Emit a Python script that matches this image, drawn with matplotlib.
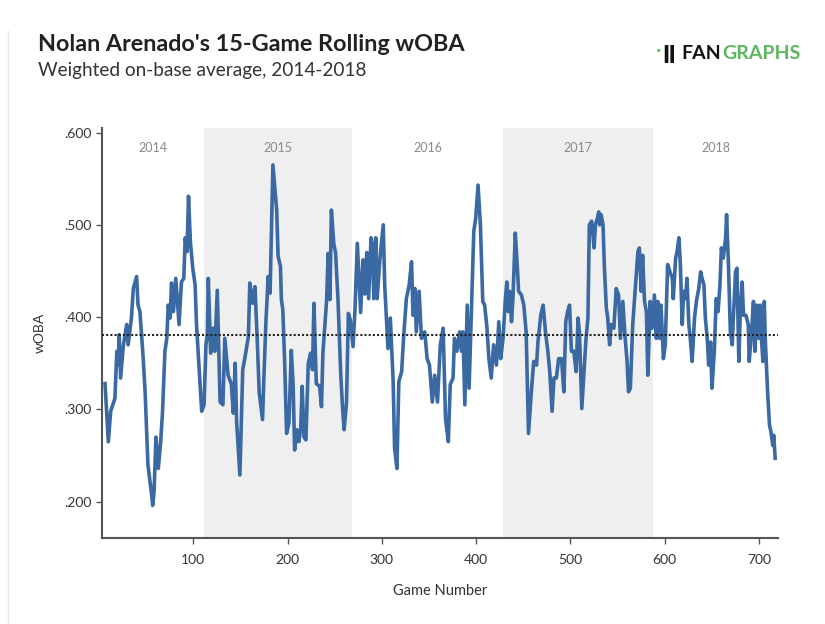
import matplotlib
matplotlib.use('Agg')
import matplotlib.pyplot as plt
from matplotlib.lines import Line2D

# 15-game rolling wOBA (game number, wOBA)
games = [6.5, 10, 12.5, 17, 19, 20.5, 21.5, 23, 26, 29.5, 31, 34.5, 36.5, 40, 41.5, 43.5, 47, 49,
         52, 56, 57, 58.5, 60.5, 63, 65.5, 67.5, 70, 72, 73.5, 75.5, 77, 79, 81.5, 85, 87.5, 90,
         91.5, 93.5, 95, 97, 99.5, 102, 103.5, 106.5, 109, 111.5, 113.5, 115, 116, 118.5, 121, 123,
         125.5, 128.5, 131.5, 133.5, 137, 140.5, 142.5, 144.5, 146, 149.5, 152.5, 155, 158.5, 160,
         163, 165.5, 168, 170, 173.5, 175, 177, 179.5, 181.5, 184.5, 188.5, 190, 192.5, 193.5, 195,
         197, 199, 201.5, 204, 206, 207.5, 210, 212, 214, 215.5, 217.5, 219.5, 222, 224.5, 226.5,
         228, 230.5, 234, 236, 237.5, 241.5, 243, 245, 246.5, 249, 251, 253.5, 256.5, 258.5, 260,
         262.5, 264.5, 266.5, 269.5, 271.5, 274, 277.5, 280, 282, 284, 286, 288.5, 290, 291.5,
         293.5, 295, 298, 301.5, 303, 306.5, 309, 312, 313.5, 316, 318, 321, 323, 326, 329, 331.5,
         333, 335, 336.5, 339.5, 342, 345.5, 348, 350.5, 353.5, 356, 359, 362, 365, 367.5, 370.5,
         372.5, 375.5, 377, 379.5, 382.5, 384.5, 386, 388, 390.5, 392.5, 395, 397.5, 399.5, 402,
         404.5, 407, 409, 411.5, 413.5, 416, 418.5, 421.5, 424, 426, 428.5, 431, 432.5, 434, 435.5,
         437.5, 439, 441.5, 443.5, 445, 448, 450.5, 453, 455.5, 458.5, 461, 464, 465.5, 468.5, 471,
         473.5, 476, 478, 480.5, 482.5, 485, 487.5, 490.5, 493, 495, 497, 499, 501, 503.5, 506, 508,
         509.5, 512, 514, 516.5, 518.5, 520, 522.5, 525, 526.5, 528.5, 530, 531, 532.5, 534.5, 536,
         538, 539.5, 541.5, 543, 546, 548.5, 551, 553, 555.5, 558, 560, 561.5, 563.5, 566, 568.5,
         571.5, 573, 575, 576.5, 578.5, 580.5, 582, 584.5, 586.5, 589, 591, 592.5, 594.5, 596,
         598.5, 600.5, 603, 605.5, 608, 609, 611.5, 613, 615, 616.5, 618.5, 620, 622, 623.5, 625.5,
         627, 629, 631.5, 633.5, 636, 638, 639.5, 641.5, 643, 645, 646.5, 648.5, 650, 652.5, 654.5,
         656.5, 658.5, 660, 662, 664.5, 665.5, 667.5, 669.5, 671.5, 673, 675, 676.5, 678.5, 680,
         682, 683.5, 686, 688.5, 689.5, 692, 694, 695.5, 697.5, 699.5, 701, 702.5, 704, 705.5,
         706.5, 709, 711, 712.5, 714.5, 715.5, 717]
woba = [.328, .265, .298, .312, .363, .348, .381, .334, .370, .392, .370, .399, .431, .444, .413, .406, .355, .319,
        .240, .207, .196, .211, .270, .236, .265, .298, .363, .377, .413, .399, .437, .406, .442, .392, .438, .442,
        .486, .471, .531, .482, .453, .435, .392, .341, .298, .305, .370, .381, .442, .361, .388, .363,
        .429, .308, .305, .377, .337, .327, .296, .350, .287, .229, .343, .357, .379, .437,
        .415, .433, .372, .318, .289, .336, .393, .444, .426, .565, .516, .466, .455, .419, .408,
        .350, .274, .285, .364, .325, .256, .278, .265, .280, .325, .270, .267, .350, .361, .343,
        .415, .328, .325, .303, .361, .419, .469, .419, .516, .480, .469, .419, .336, .299, .278,
        .307, .404, .397, .368, .408, .480, .405, .462, .425, .470, .420, .486, .478, .420,
        .486, .420, .464, .500, .435, .366, .399, .330, .258, .236, .330, .341, .377, .420, .435, .460,
        .402, .431, .384, .428, .377, .384, .355, .348, .308, .337, .308, .370, .388, .290, .265,
        .327, .334, .377, .363, .384, .363, .384, .305, .413, .323, .410, .493, .507, .543,
        .500, .417, .413, .388, .355, .334, .370, .348, .395, .355, .377, .420, .438, .406, .428,
        .395, .420, .491, .457, .428, .424, .413, .384, .274, .319, .352, .348, .373, .402, .413,
        .384, .363, .341, .298, .334, .334, .355, .355, .319, .395, .406, .413, .363, .363, .341, .399,
        .384, .301, .334, .377, .399, .500, .504, .475, .500, .507, .514, .500, .511, .500, .453,
        .410, .399, .370, .392, .388, .431, .424, .377, .417, .377, .352, .319, .323, .392, .428,
        .471, .475, .428, .467, .417, .406, .337, .417, .388, .424, .377, .417, .377, .413,
        .355, .370, .457, .449, .442, .420, .464, .471, .486, .457, .392, .428, .420, .442, .392,
        .377, .352, .399, .417, .431, .449, .442, .435, .399, .377, .348, .373, .323, .363, .420,
        .406, .435, .475, .464, .486, .511, .457, .384, .370, .406, .449, .453, .352, .406,
        .438, .402, .402, .392, .352, .384, .417, .363, .413, .377, .413, .377, .352, .417,
        .377, .319, .283, .276, .261, .272, .247]

avg_woba = 0.381
seasons = ['2014', '2015', '2016', '2017', '2018']
season_bounds = [3, 111.5, 268.5, 428.5, 587.5, 720]
shaded = ['2015', '2017']
yticks = [0.2, 0.3, 0.4, 0.5, 0.6]
ytick_labels = ['.200', '.300', '.400', '.500', '.600']
xticks = [100, 200, 300, 400, 500, 600, 700]

fig = plt.figure(figsize=(8.25, 6.24), dpi=100)
ax = fig.add_axes([0.1233, 0.1383, 0.8197, 0.6567])

for i, yr in enumerate(seasons):
    lo, hi = season_bounds[i], season_bounds[i + 1]
    if yr in shaded:
        ax.axvspan(lo, hi, color='#efefef', lw=0, zorder=0)
    ax.text((lo + hi) / 2, 0.951, yr, transform=ax.get_xaxis_transform(),
            ha='center', va='center', fontsize=9, color='#8a8a8a', family='Lato')

ax.plot(games, woba, color='#3a69a3', lw=2.6, zorder=3, solid_joinstyle='round')
ax.axhline(avg_woba, color='#222222', lw=1.5, ls=(0, (1, 1)), zorder=4)

ax.set_xlim(3, 720)
ax.set_ylim(0.161, 0.605)
ax.set_yticks(yticks)
ax.set_yticklabels(ytick_labels)
ax.set_xticks(xticks)
for s in ['top', 'right']:
    ax.spines[s].set_visible(False)
for s in ['left', 'bottom']:
    ax.spines[s].set_color('#555555')
    ax.spines[s].set_linewidth(1.5)
ax.tick_params(axis='both', colors='#555555', labelcolor='#333333', labelsize=10, length=4, width=1)
for lab in ax.get_xticklabels() + ax.get_yticklabels():
    lab.set_family('Lato')
ax.tick_params(axis='x', pad=8)

ax.set_xlabel('Game Number', family='Lato', fontsize=10.5, color='#333333', labelpad=13)
ax.set_ylabel('wOBA', family='Lato', fontsize=10, color='#333333', labelpad=13)

fig.text(0.046, 0.928, "Nolan Arenado's 15-Game Rolling wOBA", family='Lato',
         fontweight='bold', fontsize=16.8, color='#222222', va='center')
fig.text(0.046, 0.887, 'Weighted on-base average, 2014-2018', family='Lato',
         fontsize=13.7, color='#333333', va='center')

# FanGraphs logo
fig.text(0.795, 0.917, '.', family='Lato', fontweight='bold', fontsize=16,
         color='#5cb85c', va='baseline')
fig.text(0.803, 0.905, '\u01C1', family='DejaVu Sans', fontweight='bold', fontsize=14,
         color='#111111', va='baseline')
fan = fig.text(0.826, 0.905, 'FAN', family='Lato', fontweight='bold', fontsize=14,
               color='#111111', va='baseline')
ax.annotate('GRAPHS', xy=(1, 0), xycoords=fan, xytext=(0.5, 0), textcoords='offset points',
            va='bottom', ha='left', family='Lato', fontweight='bold', fontsize=14,
            color='#5cb85c', annotation_clip=False)

fig.add_artist(Line2D([0.01, 0.01], [0.0, 0.95], transform=fig.transFigure,
                      color='#e6e6e6', lw=1))

fig.savefig('out.png', dpi=100)
